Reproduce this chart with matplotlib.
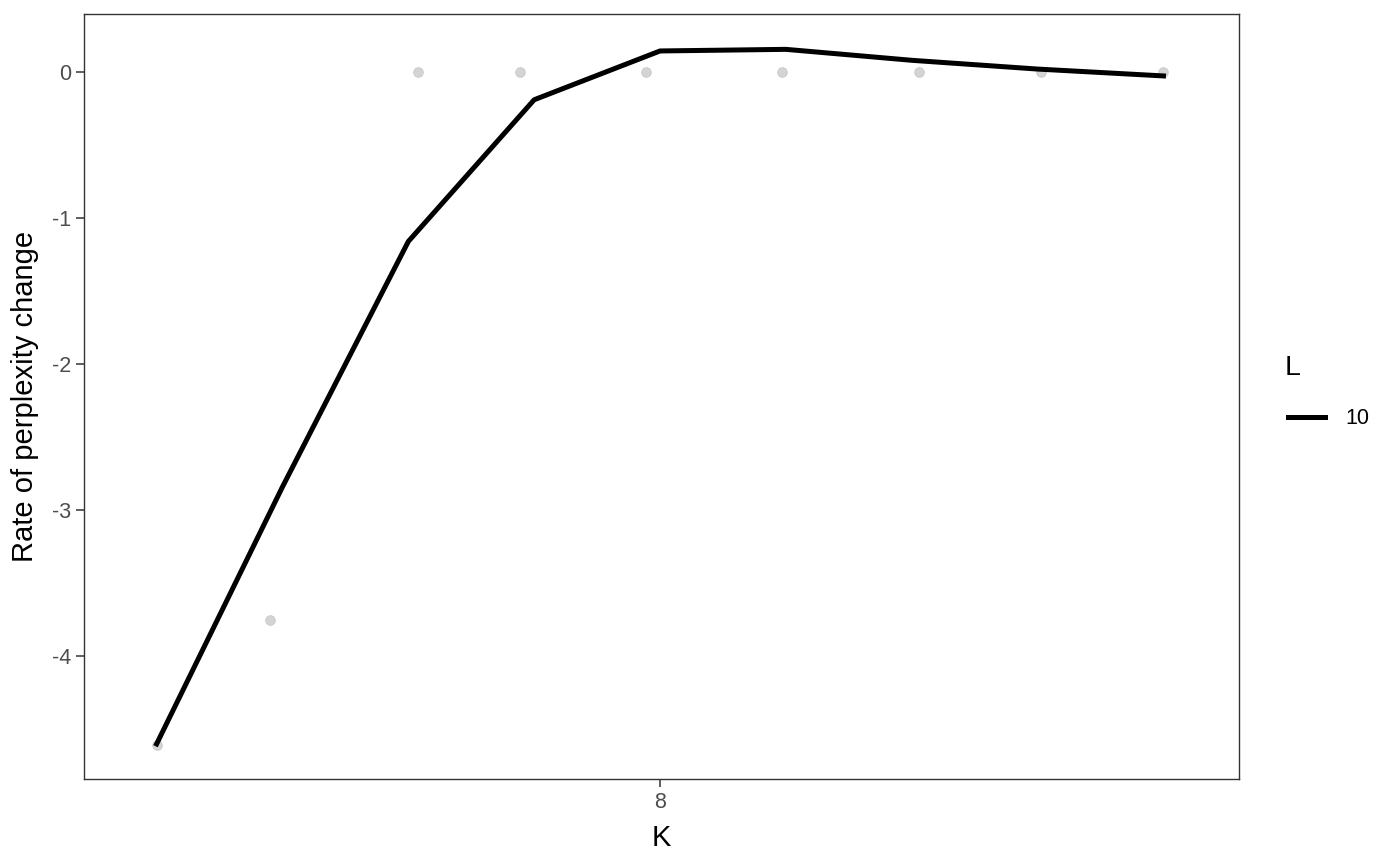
import matplotlib
matplotlib.use("Agg")
import matplotlib.pyplot as plt
from matplotlib.lines import Line2D

plt.rcParams['font.family'] = ['Liberation Sans', 'DejaVu Sans']

# smoothed line (L = 10)
line_k = [4, 5, 6, 7, 8, 9, 10, 11, 12]
line_rate = [-4.60, -2.84, -1.16, -0.19, 0.144, 0.155, 0.08, 0.02, -0.027]

# jittered raw points
point_k = [4.0, 4.90, 6.08, 6.89, 7.89, 8.97, 10.06, 11.03, 12.0]
point_rate = [-4.61, -3.75, 0.0, 0.0, 0.0, 0.0, 0.0, 0.0, 0.0]

x_ticks = [8]
y_ticks = [0, -1, -2, -3, -4]
legend_title = "L"
legend_label = "10"

fig = plt.figure(figsize=(14, 8.65), dpi=100)
ax = fig.add_axes([84/1400, 1-779/865, (1239-84)/1400, (779-14)/865])

ax.scatter(point_k, point_rate, s=48, color='#d4d4d4', edgecolors='#c8c8c8',
           linewidths=0.6, zorder=2)
ax.plot(line_k, line_rate, color='black', lw=3.6, zorder=3)

ax.set_xlim(3.423, 12.6)
ax.set_ylim(-4.84, 0.397)
ax.set_xticks(x_ticks)
ax.set_xticklabels([str(t) for t in x_ticks])
ax.set_yticks(y_ticks)
ax.set_yticklabels([str(t) for t in y_ticks])
ax.tick_params(colors='#333333', labelcolor='#4d4d4d', labelsize=15.5, length=5.5,
               width=1.1, pad=4)
for sp in ax.spines.values():
    sp.set_color('#333333')
    sp.set_linewidth(1)

ax.set_xlabel('K', fontsize=21, labelpad=8)
ax.set_ylabel('Rate of perplexity change', fontsize=21, labelpad=9)

fig.text(1285/1400, 1-368/865, legend_title, fontsize=20.5, ha='left', va='center')
handles = [Line2D([0], [0], color='black', lw=3.6)]
leg = fig.legend(handles, [legend_label], loc='center left',
                 bbox_to_anchor=(1288/1400, 1-419/865), frameon=False,
                 fontsize=15.5, handlelength=1.72, borderaxespad=0, borderpad=0,
                 handletextpad=0.95)

fig.savefig('out.png', dpi=100)
